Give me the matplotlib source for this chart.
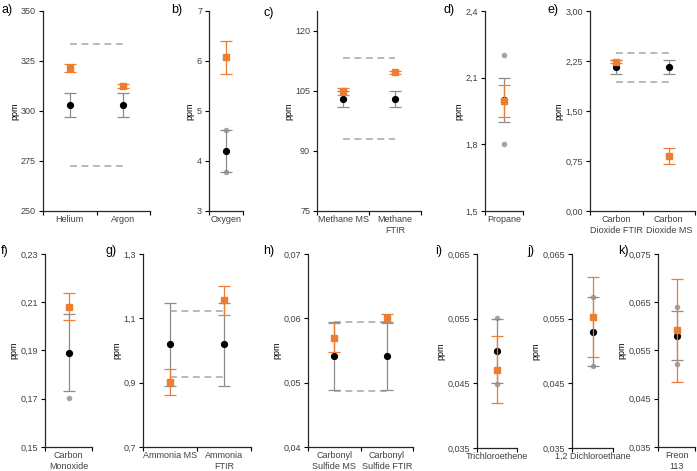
import numpy as np
import matplotlib
matplotlib.use('Agg')
from matplotlib import pyplot as plt
from matplotlib.ticker import FixedLocator, FuncFormatter

plt.rcParams['font.family'] = ['Liberation Sans', 'DejaVu Sans']

# a) Helium / Argon
cats_a = ['Helium', 'Argon']
black_a = [303, 303]
black_err_a = [6.2, 6.2]
orange_a = [321.5, 312.5]
orange_err_a = [2.0, 1.0]
grey_a = [[], []]
limits_a = [333.5, 272.7]

# b) Oxygen
cats_b = ['Oxygen']
black_b = [4.2]
black_err_b = [0.42]
orange_b = [6.08]
orange_err_b = [0.33]
grey_b = [[4.62, 3.78]]
limits_b = []

# c) Methane
cats_c = ['Methane MS', 'Methane\nFTIR']
black_c = [103.0, 103.0]
black_err_c = [2.1, 2.1]
orange_c = [104.9, 109.7]
orange_err_c = [0.9, 0.4]
grey_c = [[], []]
limits_c = [113.2, 92.9]

# d) Propane
cats_d = ['Propane']
black_d = [2.0]
black_err_d = [0.1]
orange_d = [1.995]
orange_err_d = [0.073]
grey_d = [[2.2, 1.8]]
limits_d = []

# e) Carbon dioxide
cats_e = ['Carbon\nDioxide FTIR', 'Carbon\nDioxide MS']
black_e = [2.16, 2.16]
black_err_e = [0.1, 0.1]
orange_e = [2.24, 0.82]
orange_err_e = [0.02, 0.12]
grey_e = [[], []]
limits_e = [2.37, 1.94]

# f) Carbon monoxide
cats_f = ['Carbon\nMonoxide']
black_f = [0.1891]
black_err_f = [0.016]
orange_f = [0.2082]
orange_err_f = [0.0055]
grey_f = [[0.2082, 0.1702]]
limits_f = []

# g) Ammonia
cats_g = ['Ammonia MS', 'Ammonia\nFTIR']
black_g = [1.02, 1.02]
black_err_g = [0.129, 0.129]
orange_g = [0.901, 1.156]
orange_err_g = [0.04, 0.045]
grey_g = [[], []]
limits_g = [1.122, 0.917]

# h) Carbonyl sulfide
cats_h = ['Carbonyl\nSulfide MS', 'Carbonyl\nSulfide FTIR']
black_h = [0.0541, 0.0541]
black_err_h = [0.0053, 0.0053]
orange_h = [0.0570, 0.0600]
orange_err_h = [0.0023, 0.0007]
grey_h = [[], []]
limits_h = [0.0594, 0.0487]

# i) Trichloroethene
cats_i = ['Trichloroethene']
black_i = [0.0500]
black_err_i = [0.0050]
orange_i = [0.0471]
orange_err_i = [0.0052]
grey_i = [[0.0551, 0.0449]]
limits_i = []

# j) 1,2 Dichloroethane
cats_j = ['1,2 Dichloroethane']
black_j = [0.0530]
black_err_j = [0.0053]
orange_j = [0.0552]
orange_err_j = [0.0062]
grey_j = [[0.0583, 0.0477]]
limits_j = []

# k) Freon 113
cats_k = ['Freon\n113']
black_k = [0.0581]
black_err_k = [0.0051]
orange_k = [0.0592]
orange_err_k = [0.0107]
grey_k = [[0.0640, 0.0523]]
limits_k = []

panels = [
    ('a)', cats_a, black_a, black_err_a, orange_a, orange_err_a, grey_a, limits_a, [250, 275, 300, 325, 350], '{:.0f}'),
    ('b)', cats_b, black_b, black_err_b, orange_b, orange_err_b, grey_b, limits_b, [3, 4, 5, 6, 7], '{:.0f}'),
    ('c)', cats_c, black_c, black_err_c, orange_c, orange_err_c, grey_c, limits_c, [75, 90, 105, 120], '{:.0f}'),
    ('d)', cats_d, black_d, black_err_d, orange_d, orange_err_d, grey_d, limits_d, [1.5, 1.8, 2.1, 2.4], '{:.1f}'),
    ('e)', cats_e, black_e, black_err_e, orange_e, orange_err_e, grey_e, limits_e, [0, 0.75, 1.5, 2.25, 3.0], '{:.2f}'),
    ('f)', cats_f, black_f, black_err_f, orange_f, orange_err_f, grey_f, limits_f, [0.15, 0.17, 0.19, 0.21, 0.23], '{:.2f}'),
    ('g)', cats_g, black_g, black_err_g, orange_g, orange_err_g, grey_g, limits_g, [0.7, 0.9, 1.1, 1.3], '{:.1f}'),
    ('h)', cats_h, black_h, black_err_h, orange_h, orange_err_h, grey_h, limits_h, [0.04, 0.05, 0.06, 0.07], '{:.2f}'),
    ('i)', cats_i, black_i, black_err_i, orange_i, orange_err_i, grey_i, limits_i, [0.035, 0.045, 0.055, 0.065], '{:.3f}'),
    ('j)', cats_j, black_j, black_err_j, orange_j, orange_err_j, grey_j, limits_j, [0.035, 0.045, 0.055, 0.065], '{:.3f}'),
    ('k)', cats_k, black_k, black_err_k, orange_k, orange_err_k, grey_k, limits_k, [0.035, 0.045, 0.055, 0.065, 0.075], '{:.3f}'),
]

# axes boxes in pixels: left, right, top, bottom ; plus letter position
W, H = 697, 471
boxes = [
    (43, 150, 11, 211, 1, 10),
    (209, 243, 11, 211, 171, 10),
    (317, 421, 11, 211, 263, 13),
    (485, 523, 11, 211, 443, 10),
    (590, 695, 11, 211, 547, 10),
    (45, 92, 254, 447, 1, 251),
    (143, 251, 254, 447, 105, 251),
    (308, 413, 254, 447, 263, 251),
    (477, 517, 254, 448, 435, 251),
    (572, 613, 254, 448, 527, 251),
    (658, 695, 254, 447, 618, 251),
]

orange = '#ED7D31'
grey = '#A5A5A5'
ebar = '#8C8C8C'
txt = '#404040'

fig = plt.figure(figsize=(W / 100, H / 100), dpi=100)

for p, b in zip(panels, boxes):
    letter, cats, blk, blk_e, org, org_e, gry, lims, yticks, fmt = p
    l, r, t, bt, lx, ly = b
    ax = fig.add_axes([l / W, 1 - bt / H, (r - l) / W, (bt - t) / H])
    x = np.arange(len(cats))
    n = len(cats)
    if lims:
        for v in lims:
            ax.plot([0, n - 1], [v, v], color=grey, lw=1.1, dashes=(4.5, 3), zorder=1)
    for i, vals in enumerate(gry):
        if vals:
            ax.plot([i] * len(vals), vals, 'o', color=grey, ms=4, zorder=2, mec='none')
    ax.errorbar(x, blk, yerr=blk_e, fmt='o', color='black', ms=4.2, ecolor=ebar,
                elinewidth=0.9, capsize=4.5, capthick=0.9, zorder=4)
    ax.errorbar(x, org, yerr=org_e, fmt='s', color=orange, ms=4, ecolor=orange,
                elinewidth=0.9, capsize=4.5, capthick=0.9, zorder=5)
    ax.set_xlim(-0.5, n - 0.5)
    ax.set_ylim(yticks[0], yticks[-1])
    if letter == 'c)':
        ax.set_ylim(75, 125)
    ax.yaxis.set_major_locator(FixedLocator(yticks))
    ax.yaxis.set_major_formatter(FuncFormatter(lambda v, pos, f=fmt: f.format(v).replace('.', ',')))
    ax.xaxis.set_major_locator(FixedLocator(np.arange(n + 1) - 0.5))
    ax.xaxis.set_major_formatter(FuncFormatter(lambda v, pos: ''))
    ax.set_xticks(x, minor=True)
    ax.set_xticklabels(cats, minor=True, fontsize=6.5, color=txt, linespacing=1.3)
    ax.tick_params(axis='x', which='minor', length=0, pad=3)
    ax.tick_params(axis='x', which='major', length=3, width=0.8, direction='out')
    ax.tick_params(axis='y', length=3, width=0.8, direction='out', labelsize=6.5, labelcolor=txt, pad=2)
    for s in ['top', 'right']:
        ax.spines[s].set_visible(False)
    for s in ['left', 'bottom']:
        ax.spines[s].set_linewidth(0.9)
        ax.spines[s].set_color('#262626')
    ax.set_ylabel('ppm', fontsize=6.5, color='black', labelpad=1.5)
    fig.text(lx / W, 1 - ly / H, letter, fontsize=9, ha='left', va='center')

fig.savefig('out.png', dpi=100)
